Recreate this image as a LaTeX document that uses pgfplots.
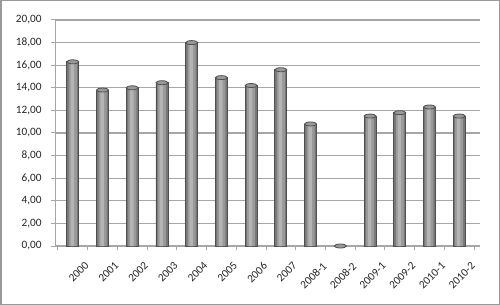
\documentclass[border=0pt]{standalone}
\usepackage{pgfplots}
\pgfplotsset{compat=1.18}
\usepackage{fontspec}
\setmainfont{Carlito}
\definecolor{barlight}{HTML}{B4B4B4}
\definecolor{barmid}{HTML}{999999}
\definecolor{baredge}{HTML}{777777}
\definecolor{barline}{HTML}{505050}
\definecolor{gridc}{HTML}{A6A6A6}
\pgfdeclareplotmark{cyltop}{%
  \pgfpathellipse{\pgfpointorigin}{\pgfpoint{6bp}{0bp}}{\pgfpoint{0bp}{2bp}}%
  \pgfusepath{fill,stroke}}
\pgfplotstableread{
x y
0 16.3
1 13.8
2 14.0
3 14.45
4 18.0
5 14.9
6 14.2
7 15.6
8 10.8
9 0
10 11.5
11 11.8
12 12.3
13 11.5
}\datatab
\begin{document}
\begin{tikzpicture}
\useasboundingbox (0,0) rectangle (500bp,305bp);
\fill[white] (0,0) rectangle (500bp,305bp);
\draw[gray!80, line width=1.5bp] (0.75bp,0.75bp) rectangle (499.25bp,304.25bp);
\begin{axis}[
  at={(55bp,59bp)}, anchor=south west,
  scale only axis, width=425bp, height=226bp,
  xmin=-0.6, xmax=13.7, ymin=0, ymax=20,
  axis lines*=left,
  axis line style={gridc, line width=1bp},
  ytick={0,2,...,20},
  ymajorgrids, grid style={gridc, line width=1.1bp},
  xtick={0,...,13},
  xticklabels={2000,2001,2002,2003,2004,2005,2006,2007,2008-1,2008-2,2009-1,2009-2,2010-1,2010-2},
  major x tick style={draw=none},
  minor xtick={-0.5,0.5,...,13.5},
  minor x tick style={gridc, line width=1bp},
  major y tick style={gridc, line width=1bp},
  tick align=outside, major tick length=4bp, minor tick length=4bp,
  /pgf/number format/fixed, /pgf/number format/fixed zerofill,
  /pgf/number format/precision=2, /pgf/number format/use comma,
  /pgf/number format/assume math mode=true,
  ticklabel style={font=\fontsize{11.3}{13}\selectfont, text=black!85},
  yticklabel style={xshift=-6bp},
  xticklabel style={rotate=45, anchor=north east, inner sep=1pt, yshift=-15bp, xshift=1bp},
  clip=false,
]
\addplot[ybar, bar width=12bp, bar shift=0pt, draw=barline, line width=0.8bp, fill=baredge]
  table[x=x, y=y] {\datatab};
\addplot[ybar, bar width=8bp, bar shift=0pt, draw=none, fill=barmid]
  table[x=x, y=y] {\datatab};
\addplot[ybar, bar width=3.5bp, bar shift=-0.5bp, draw=none, fill=barlight]
  table[x=x, y=y] {\datatab};
\addplot[only marks, mark=cyltop, mark options={fill=barmid, draw=barline, line width=0.8bp}]
  table[x=x, y=y] {\datatab};
\end{axis}
\end{tikzpicture}
\end{document}
